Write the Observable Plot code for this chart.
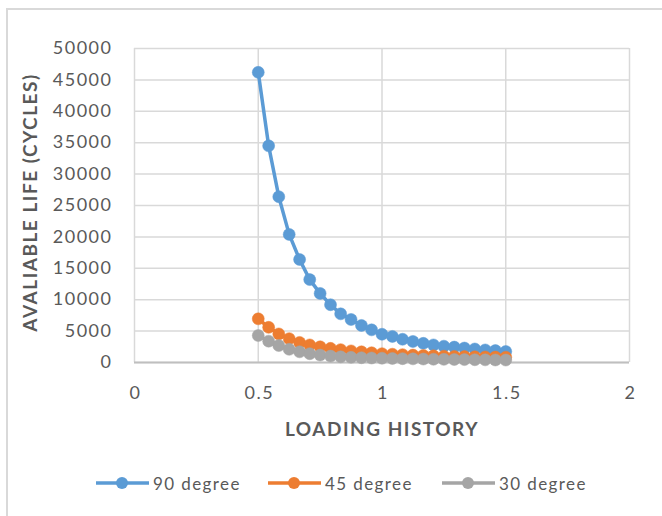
<!DOCTYPE html>
<html>
<head>
<meta charset="utf-8">
<script src="https://cdn.jsdelivr.net/npm/d3@7"></script>
<script src="https://cdn.jsdelivr.net/npm/@observablehq/plot@0.6"></script>
<style>
  body { margin: 0; background: #fff; }
  #wrap { position: relative; width: 662px; height: 516px; overflow: hidden; font-family: Lato, "Open Sans", sans-serif; }
  #frame { position: absolute; left: 6px; top: 8px; width: 720px; height: 560px; border-left: 2px solid #d9d9d9; border-top: 2px solid #d9d9d9; }
  #chart { position: absolute; left: 0; top: 0; }
  #legend { position: absolute; top: 471px; left: 0; width: 662px; height: 24px; }
  .item { position: absolute; top: 0; height: 24px; display: flex; align-items: center; color: #595959; font-size: 17px; letter-spacing: 1.4px; }
  .item svg { display: block; margin-right: 3px; }
</style>
</head>
<body>
<div id="wrap">
  <div id="frame"></div>
  <div id="chart"></div>
  <div id="legend"></div>
</div>
<script>
// Data
const loading = [0.5, 0.542, 0.583, 0.625, 0.667, 0.708, 0.75, 0.792, 0.833, 0.875, 0.917, 0.958, 1.0,
                 1.042, 1.083, 1.125, 1.167, 1.208, 1.25, 1.292, 1.333, 1.375, 1.417, 1.458, 1.5];
const deg90 = [46200, 34500, 26400, 20400, 16400, 13200, 11000, 9200, 7750, 6850, 5900, 5200, 4500,
               4150, 3700, 3350, 3050, 2800, 2600, 2450, 2300, 2150, 2000, 1900, 1750];
const deg45 = [6950, 5600, 4550, 3800, 3200, 2800, 2500, 2250, 2050, 1850, 1700, 1550, 1400,
               1320, 1250, 1180, 1120, 1060, 1010, 970, 940, 910, 880, 860, 840];
const deg30 = [4300, 3400, 2700, 2100, 1700, 1400, 1180, 1020, 900, 820, 760, 720, 680,
               640, 610, 580, 550, 520, 500, 480, 460, 440, 420, 400, 390];
const seriesNames = ["90 degree", "45 degree", "30 degree"];
const seriesColors = ["#5B9BD5", "#ED7D31", "#A5A5A5"];
const xTicks = [0, 0.5, 1, 1.5, 2];
const yTicks = [0, 5000, 10000, 15000, 20000, 25000, 30000, 35000, 40000, 45000, 50000];
const xTitle = "LOADING HISTORY";
const yTitle = "AVALIABLE LIFE (CYCLES)";

const seriesValues = [deg90, deg45, deg30];
const rows = [];
seriesValues.forEach((vals, s) => vals.forEach((v, i) => rows.push({series: seriesNames[s], x: loading[i], y: v})));

const lineMarks = [];
seriesNames.forEach((name, s) => {
  const d = rows.filter(r => r.series === name);
  lineMarks.push(Plot.line(d, {x: "x", y: "y", stroke: seriesColors[s], strokeWidth: 3.5}));
  lineMarks.push(Plot.dot(d, {x: "x", y: "y", r: 6, fill: seriesColors[s], stroke: seriesColors[s], strokeWidth: 0.5}));
});

const chart = Plot.plot({
  width: 662,
  height: 450,
  marginLeft: 134,
  marginRight: 33,
  marginTop: 48,
  marginBottom: 88,
  style: {fontFamily: "Lato, 'Open Sans', sans-serif", fontSize: "18px", letterSpacing: "1.5px", color: "#595959", background: "transparent", overflow: "visible"},
  x: {domain: [0, 2]},
  y: {domain: [0, 50000]},
  marks: [
    Plot.gridX(xTicks, {stroke: "#d9d9d9", strokeOpacity: 1, strokeWidth: 1.5}),
    Plot.gridY(yTicks, {stroke: "#d9d9d9", strokeOpacity: 1, strokeWidth: 1.5}),
    Plot.ruleY([0], {stroke: "#bfbfbf", strokeWidth: 2}),
    Plot.axisY(yTicks, {tickSize: 0, tickPadding: 22, tickFormat: d => String(d), label: null, fill: "#595959", fontSize: 18}),
    Plot.axisX(xTicks, {tickSize: 0, tickPadding: 24, tickFormat: d => String(d), label: null, fill: "#595959", fontSize: 18, dx: 1}),
    Plot.text([yTitle], {frameAnchor: "left", dx: -104, dy: -3, rotate: -90, textAnchor: "middle", lineAnchor: "middle", fontWeight: "bold", fontSize: 19, fill: "#595959"}),
    Plot.text([xTitle], {frameAnchor: "bottom", dy: 67, textAnchor: "middle", lineAnchor: "middle", fontWeight: "bold", fontSize: 19, fill: "#595959"}),
    ...lineMarks
  ]
});
document.getElementById("chart").appendChild(chart);

// Legend
const legendX = [95, 267, 441];
const legend = document.getElementById("legend");
seriesNames.forEach((name, s) => {
  const item = document.createElement("div");
  item.className = "item";
  item.style.left = legendX[s] + "px";
  item.innerHTML = `<svg width="55" height="14"><line x1="1" x2="54" y1="7" y2="7" stroke="${seriesColors[s]}" stroke-width="3.5"/><circle cx="27" cy="7" r="6" fill="${seriesColors[s]}"/></svg><span>${name}</span>`;
  legend.appendChild(item);
});
</script>
</body>
</html>
